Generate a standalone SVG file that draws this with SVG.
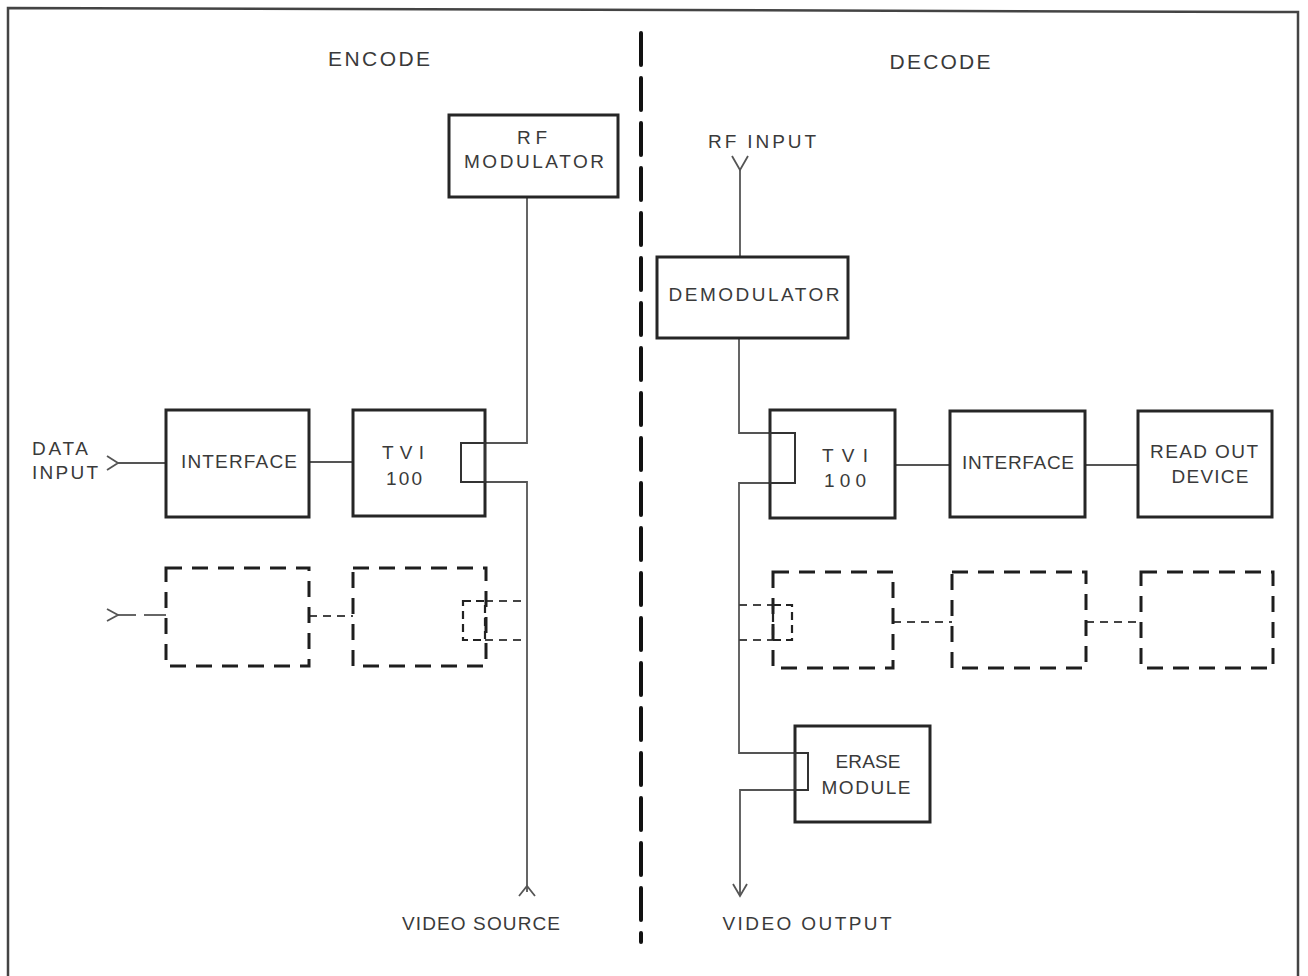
<svg xmlns="http://www.w3.org/2000/svg" width="1308" height="976" viewBox="0 0 1308 976">
<style>
text{font-family:"Liberation Sans",Arial,sans-serif;font-size:19px;fill:#3a3a3a;text-anchor:middle;dominant-baseline:central}
.title{font-size:21px}
.box{fill:none;stroke:#262626;stroke-width:3}
.dbox{fill:none;stroke:#1e1e1e;stroke-width:3;stroke-dasharray:16 10}
.line{fill:none;stroke:#555;stroke-width:1.8}
.dline{fill:none;stroke:#444;stroke-width:1.8;stroke-dasharray:8 6}
.inner{fill:none;stroke:#333;stroke-width:2}
.dinner{fill:none;stroke:#222;stroke-width:2.2;stroke-dasharray:8 5}
</style>
<rect width="1308" height="976" fill="#fff"/>
<g id="frame">
<polyline points="8,976 8,8 1298,12 1298,976" fill="none" stroke="#444" stroke-width="2.5"/>
<line x1="641" y1="33" x2="641" y2="942" stroke="#111" stroke-width="4" stroke-dasharray="32 13" stroke-linecap="round"/>
</g>
<g id="labels">
<text class="title" x="379" y="58" textLength="102" lengthAdjust="spacing">ENCODE</text>
<text class="title" x="940" y="61" textLength="101" lengthAdjust="spacing">DECODE</text>
<text x="60" y="448" textLength="56" lengthAdjust="spacing">DATA</text>
<text x="65" y="472" textLength="66" lengthAdjust="spacing">INPUT</text>
<text x="762" y="141" textLength="108" lengthAdjust="spacing">RF INPUT</text>
<text x="481" y="923" textLength="158" lengthAdjust="spacing">VIDEO SOURCE</text>
<text x="807" y="923" textLength="169" lengthAdjust="spacing">VIDEO OUTPUT</text>
</g>
<g id="connectors">
<polyline class="line" points="107,456 118,463 107,470"/>
<line class="line" x1="118" y1="463" x2="166" y2="463"/>
<line class="line" x1="309" y1="462" x2="353" y2="462"/>
<polyline class="line" points="527,197 527,443 461,443"/>
<polyline class="line" points="461,482 527,482 527,892"/>
<polyline class="line" points="519,896 527,886 535,896"/>
<polyline class="line" points="107,609 118,615 107,621"/>
<line class="line" x1="118" y1="615" x2="136" y2="615"/>
<line class="line" x1="144" y1="615" x2="166" y2="615"/>
<line class="dline" x1="309" y1="616" x2="353" y2="616"/>
<line class="dline" x1="485" y1="601" x2="527" y2="601"/>
<line class="dline" x1="485" y1="640" x2="527" y2="640"/>
<polyline class="line" points="732,156 740,170 748,156"/>
<line class="line" x1="740" y1="170" x2="740" y2="257"/>
<polyline class="line" points="739,338 739,433 795,433 795,483 739,483 739,753 795,753"/>
<line class="line" x1="895" y1="465" x2="950" y2="465"/>
<line class="line" x1="1085" y1="465" x2="1138" y2="465"/>
<line class="dline" x1="739" y1="605" x2="773" y2="605"/>
<line class="dline" x1="739" y1="640" x2="773" y2="640"/>
<line class="dline" x1="893" y1="622" x2="952" y2="622"/>
<line class="dline" x1="1086" y1="622" x2="1141" y2="622"/>
<polyline class="line" points="795,790 740,790 740,896"/>
<polyline class="line" points="733,884 740,896 747,884"/>
</g>
<g id="rf-modulator">
<rect class="box" x="449" y="115" width="169" height="82"/>
<text x="532" y="137" textLength="30" lengthAdjust="spacing">RF</text>
<text x="534" y="161" textLength="140" lengthAdjust="spacing">MODULATOR</text>
</g>
<g id="interface-enc">
<rect class="box" x="166" y="410" width="143" height="107"/>
<text x="239" y="461" textLength="116" lengthAdjust="spacing">INTERFACE</text>
</g>
<g id="tvi100-enc">
<rect class="box" x="353" y="410" width="132" height="106"/>
<rect class="inner" x="461" y="443" width="24" height="39"/>
<text x="403" y="452" textLength="42" lengthAdjust="spacing">TVI</text>
<text x="404" y="478" textLength="36" lengthAdjust="spacing">100</text>
</g>
<g id="dashed-enc-1">
<rect class="dbox" x="166" y="568" width="143" height="98"/>
</g>
<g id="dashed-enc-2">
<rect class="dbox" x="353" y="568" width="133" height="98"/>
<rect class="dinner" x="463" y="601" width="22" height="39"/>
</g>
<g id="demodulator">
<rect class="box" x="657" y="257" width="191" height="81"/>
<text x="754" y="294" textLength="171" lengthAdjust="spacing">DEMODULATOR</text>
</g>
<g id="tvi100-dec">
<rect class="box" x="770" y="410" width="125" height="108"/>
<rect class="inner" x="770" y="433" width="25" height="50"/>
<text x="845" y="455" textLength="46" lengthAdjust="spacing">TVI</text>
<text x="845" y="480" textLength="42" lengthAdjust="spacing">100</text>
</g>
<g id="interface-dec">
<rect class="box" x="950" y="411" width="135" height="106"/>
<text x="1018" y="462" textLength="112" lengthAdjust="spacing">INTERFACE</text>
</g>
<g id="readout-device">
<rect class="box" x="1138" y="411" width="134" height="106"/>
<text x="1204" y="451" textLength="108" lengthAdjust="spacing">READ OUT</text>
<text x="1210" y="476" textLength="77" lengthAdjust="spacing">DEVICE</text>
</g>
<g id="dashed-dec-1">
<rect class="dbox" x="773" y="572" width="120" height="96"/>
<rect class="dinner" x="773" y="605" width="19" height="35"/>
</g>
<g id="dashed-dec-2">
<rect class="dbox" x="952" y="572" width="134" height="96"/>
</g>
<g id="dashed-dec-3">
<rect class="dbox" x="1141" y="572" width="132" height="96"/>
</g>
<g id="erase-module">
<rect class="box" x="795" y="726" width="135" height="96"/>
<rect class="inner" x="795" y="753" width="13" height="37"/>
<text x="868" y="761" textLength="65" lengthAdjust="spacing">ERASE</text>
<text x="866" y="787" textLength="89" lengthAdjust="spacing">MODULE</text>
</g>
</svg>
